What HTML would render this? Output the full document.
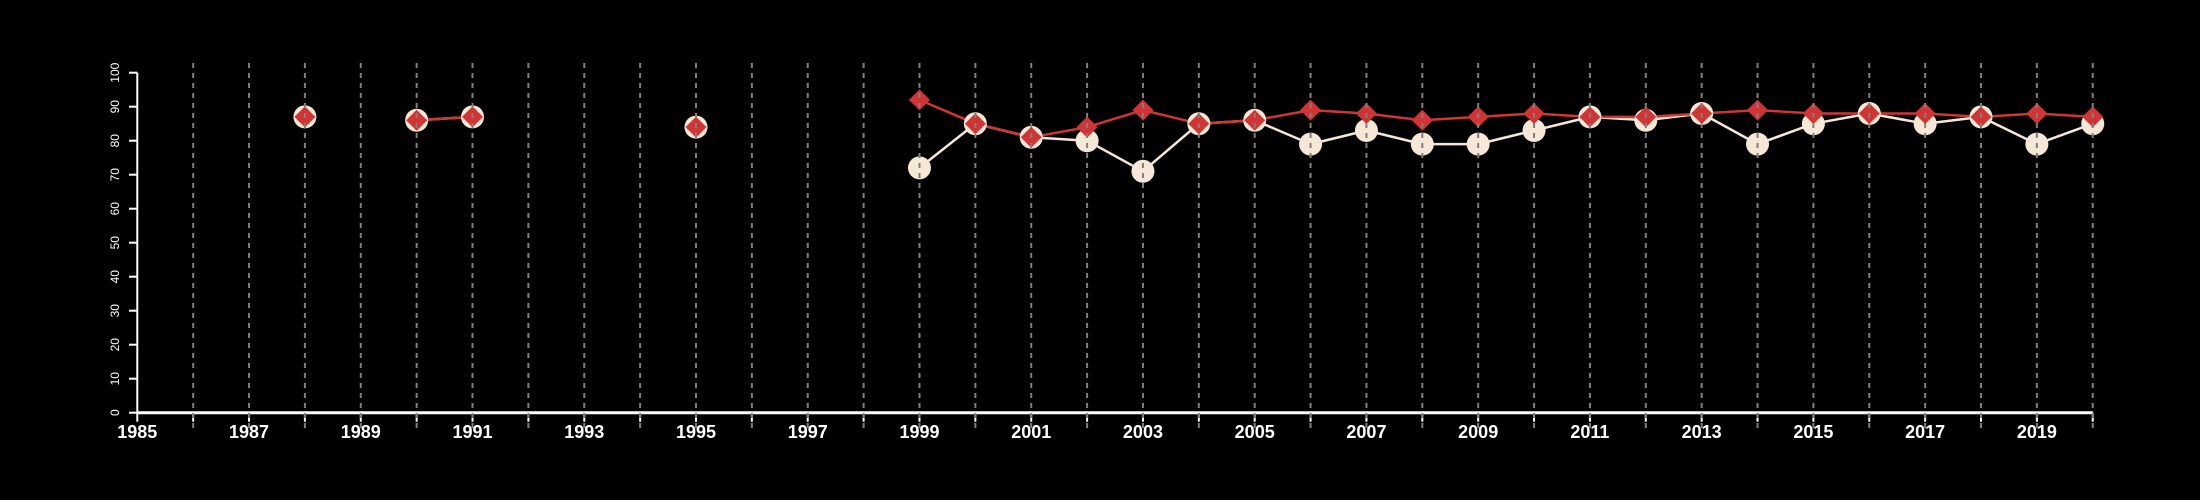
<!DOCTYPE html>
<html><head><meta charset="utf-8"><style>html,body{margin:0;background:#000}svg{display:block}</style></head>
<body>
<svg id="chart" width="2200" height="500" xmlns="http://www.w3.org/2000/svg" font-family="Liberation Sans, sans-serif">
<rect width="2200" height="500" fill="#000"/>
<g id="axes"></g><g id="lines"></g><g id="marks"></g><g id="grid"></g>
</svg>
<script>
const years = [1988,1990,1991,1995,1999,2000,2001,2002,2003,2004,2005,2006,2007,2008,2009,2010,2011,2012,2013,2014,2015,2016,2017,2018,2019,2020];
const redValues = [87,86,87,84,92,85,81,84,89,85,86,89,88,86,87,88,87,87,88,89,88,88,88,87,88,87];
const whiteValues = [87,86,87,84,72,85,81,80,71,85,86,79,83,79,79,83,87,86,88,79,85,88,85,87,79,85];
const yTicks = [0,10,20,30,40,50,60,70,80,90,100];
const xTickLabels = [1985,1987,1989,1991,1993,1995,1997,1999,2001,2003,2005,2007,2009,2011,2013,2015,2017,2019];
const NS='http://www.w3.org/2000/svg';
const x = yr => 137.3 + (yr-1985)*55.87;
const y = v => 412.7 - v*3.4;
function mk(tag, attrs, parent){const e=document.createElementNS(NS,tag);for(const k in attrs)e.setAttribute(k,attrs[k]);parent.appendChild(e);return e;}
const grid=document.getElementById('grid'), axes=document.getElementById('axes'), lines=document.getElementById('lines'), marks=document.getElementById('marks');
for(let yr=1986; yr<=2020; yr++){
  const l=mk('line',{x1:x(yr),x2:x(yr),y1:63,y2:428,stroke:'#7f7f7f','stroke-width':2,'stroke-dasharray':'5,5'},grid);
  
  
}
const ya=mk('line',{x1:137.3,x2:137.3,y1:y(0),y2:y(100),stroke:'#fff','stroke-width':2},axes);


yTicks.forEach(v=>{
  mk('line',{x1:129,x2:137.3,y1:y(v),y2:y(v),stroke:'#fff','stroke-width':2},axes);
  const t=mk('text',{x:0,y:0,fill:'#fff','font-size':12,'text-anchor':'middle',transform:`translate(119,${y(v)}) rotate(-90)`},axes);
  t.textContent=v;
  
  
});
const xa=mk('line',{x1:x(1985),x2:x(2020),y1:y(0),y2:y(0),stroke:'#fff','stroke-width':3},axes);


for(let yr=1985; yr<=2020; yr++) mk('line',{x1:x(yr),x2:x(yr),y1:y(0),y2:y(0)+9,stroke:'#fff','stroke-width':2},axes);
xTickLabels.forEach(yr=>{
  const t=mk('text',{x:x(yr),y:438,fill:'#fff','font-size':18,'font-weight':'bold','text-anchor':'middle'},axes);
  t.textContent=yr;
  
  
});
function drawLine(vals,color,name){
  for(let i=1;i<years.length;i++){
    if(years[i]-years[i-1]!==1) continue;
    const l=mk('line',{x1:x(years[i-1]),y1:y(vals[i-1]),x2:x(years[i]),y2:y(vals[i]),stroke:color,'stroke-width':2.5},lines);
    
    
  }
}
drawLine(whiteValues,'#f6e8d6','white-series');
drawLine(redValues,'#d03535','red-series');
years.forEach((yr,i)=>{
  const c=mk('circle',{cx:x(yr),cy:y(whiteValues[i]),r:11.5,fill:'#f6e8d6'},marks);
  
  
});
years.forEach((yr,i)=>{
  const cx=x(yr), cy=y(redValues[i]), s=10.5;
  const p=mk('polygon',{points:`${cx},${cy-s} ${cx+s},${cy} ${cx},${cy+s} ${cx-s},${cy}`,fill:'#d03535'},marks);
  
  
});
</script>
</body></html>
